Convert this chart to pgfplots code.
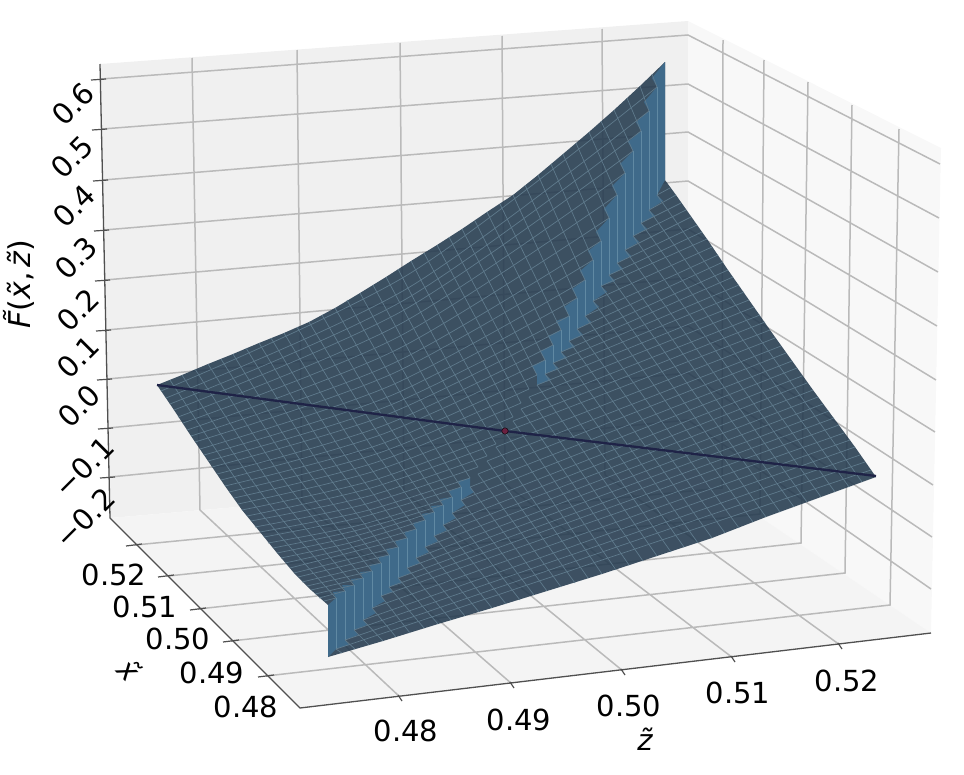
\documentclass[border=0pt]{standalone}
\usepackage{fontspec}
\setmainfont{DejaVu Sans}
\usepackage{pgfplots}
\pgfplotsset{compat=1.18}
\definecolor{paneback}{HTML}{F0F0F0}
\definecolor{paneright}{HTML}{F8F8F8}
\definecolor{panefloor}{HTML}{F4F4F4}
\definecolor{gridc}{HTML}{BABABA}
\definecolor{axc}{HTML}{505050}
\definecolor{surfc}{HTML}{243A4E}
\definecolor{flapc}{HTML}{3F6A8A}
\definecolor{flapl}{HTML}{6089A3}
\definecolor{meshc}{HTML}{5F7A8C}
\definecolor{linec}{HTML}{1F2347}
\definecolor{dotc}{HTML}{6A2040}
\newcommand{\tl}{\fontsize{29}{29}\selectfont}
\newcommand{\tr}{\fontsize{29}{29}\selectfont}
\begin{document}
\begin{tikzpicture}
\path[use as bounding box] (0,0) rectangle (964pt,774pt);
\begin{axis}[
  at={(0,0)}, anchor=south west,
  scale only axis, width=964pt, height=774pt,
  xmin=0, xmax=964, ymin=0, ymax=774, y dir=reverse,
  hide axis, clip=false, unbounded coords=jump]
% panes
\addplot[draw=none, fill=paneback] coordinates {(100,64)(688,21)(688,468)(110,518)} -- cycle;
\addplot[draw=none, fill=paneright] coordinates {(688,21)(941,148)(931,633)(688,468)} -- cycle;
\addplot[draw=none, fill=panefloor] coordinates {(110,518)(688,468)(931,633)(300,708)} -- cycle;
% grid
\addplot[gridc, line width=1.5pt] coordinates {
(101,79)(688,35)(940,164)(nan,nan)
(102,129)(688,84)(939,218)(nan,nan)
(103,180)(688,132)(938,272)(nan,nan)
(104,230)(688,181)(937,326)(nan,nan)
(105,280)(688,229)(936,380)(nan,nan)
(106,330)(688,278)(935,432)(nan,nan)
(107,379)(688,326)(933,485)(nan,nan)
(108,428)(688,373)(932,537)(nan,nan)
(110,477)(688,420)(931,589)(nan,nan)
(192,58)(200,510)(400,697)(nan,nan)
(297,50)(302,501)(512,684)(nan,nan)
(400,43)(404,492)(623,671)(nan,nan)
(502,36)(505,484)(733,658)(nan,nan)
(602,29)(605,475)(840,645)(nan,nan)
(723,40)(722,488)(135,545)(nan,nan)
(764,60)(760,514)(168,576)(nan,nan)
(808,82)(801,543)(198,609)(nan,nan)
(852,105)(845,573)(231,641)(nan,nan)
(899,129)(890,605)(266,676)(nan,nan)
};
% axes
\addplot[axc, line width=1.3pt] coordinates {(100,64)(110,518)(300,708)(931,633)};
\addplot[axc, line width=1.2pt] coordinates {
(91,80)(106,79)(nan,nan)(92,130)(107,129)(nan,nan)(93,181)(108,180)(nan,nan)
(94,231)(109,230)(nan,nan)(95,281)(110,280)(nan,nan)(96,331)(111,330)(nan,nan)
(97,380)(112,379)(nan,nan)(98,429)(113,428)(nan,nan)(100,478)(115,477)(nan,nan)
(126,546)(142,544)(nan,nan)(158,577)(174,575)(nan,nan)(190,610)(206,608)(nan,nan)
(223,642)(239,640)(nan,nan)(258,677)(274,675)(nan,nan)
(398,695)(402,701)(nan,nan)(510,682)(514,688)(nan,nan)(621,669)(625,675)(nan,nan)
(731,656)(735,662)(nan,nan)(838,643)(842,649)(nan,nan)
};
% surface silhouette
\addplot[draw=none, fill=surfc, fill opacity=0.88] coordinates {
(157,385)(182,375)(208,364)(233,354)(259,343)(284,333)(309,322)(335,308)(360,293)(386,277)(411,261)(437,245)(462,229)(487,212)(513,195)(538,175)(563,154)(589,132)(614,110)(640,86)(665,62)
(665,180)(676,195)(707,239)(728,270)(770,330)(813,390)(855,447)(876,477)
(821,497)(766,517)(712,538)(657,556)(602,574)(547,591)(492,608)(438,624)(383,641)(328,657)
(328,605)(311,590)(294,573)(277,553)(260,532)(242,510)(225,486)(208,461)(191,436)(174,410)
} -- cycle;
% upper step
\addplot[draw=none, fill=flapc] coordinates {
(665,62)(652,78)(657,87)(644,102)(649,111)(636,122)(641,131)(628,142)(633,151)(620,164)(625,173)(612,186)(617,195)(604,209)(609,218)(596,232)(601,241)(588,251)(593,260)(580,271)(585,280)(572,289)(577,298)(564,307)(569,316)(556,321)(561,330)(548,336)(553,345)(540,351)(545,360)(532,366)(537,375)
(537,385)(551,380)(545,374)(559,369)(553,363)(567,358)(561,352)(575,347)(569,341)(583,335)(577,329)(591,322)(585,316)(599,307)(593,301)(607,292)(601,286)(615,281)(609,275)(623,269)(617,263)(631,256)(625,250)(639,242)(633,236)(647,229)(641,223)(655,216)(649,210)(663,201)(657,195)(665,180)
} -- cycle;
% lower step
\addplot[draw=none, fill=flapc] coordinates {
(470,478)(458,481)(461,487)(449,491)(452,497)(440,499)(443,505)(431,506)(434,512)(422,514)(425,520)(413,523)(416,529)(404,532)(407,538)(395,541)(398,547)(386,549)(389,555)(378,557)(381,563)(369,565)(372,571)(360,572)(363,578)(351,579)(354,585)(342,585)(345,591)(333,592)(336,598)(328,605)
(328,657)(336,649)(349,645)(345,640)(358,635)(354,630)(367,625)(363,620)(376,613)(372,608)(385,601)(381,596)(393,592)(389,587)(402,583)(398,578)(411,573)(407,568)(420,563)(416,558)(429,552)(425,547)(438,541)(434,536)(447,530)(443,525)(456,518)(452,513)(465,505)(461,500)(474,492)(470,487)
} -- cycle;
% vertical strokes of the step
\addplot[flapl, line width=0.9pt] coordinates {
(657,87)(657,195)(nan,nan)(649,111)(649,210)(nan,nan)(641,131)(641,223)(nan,nan)(633,151)(633,236)(nan,nan)
(625,173)(625,250)(nan,nan)(617,195)(617,263)(nan,nan)(609,218)(609,275)(nan,nan)(601,241)(601,286)(nan,nan)
(593,260)(593,301)(nan,nan)(585,280)(585,316)(nan,nan)(577,298)(577,329)(nan,nan)(569,316)(569,341)(nan,nan)
(561,330)(561,352)(nan,nan)(553,345)(553,363)(nan,nan)(545,360)(545,374)(nan,nan)
(461,487)(461,500)(nan,nan)(452,497)(452,513)(nan,nan)(443,505)(443,525)(nan,nan)(434,512)(434,536)(nan,nan)
(425,520)(425,547)(nan,nan)(416,529)(416,558)(nan,nan)(407,538)(407,568)(nan,nan)(398,547)(398,578)(nan,nan)
(389,555)(389,587)(nan,nan)(381,563)(381,596)(nan,nan)(372,571)(372,608)(nan,nan)(363,578)(363,620)(nan,nan)
(354,585)(354,630)(nan,nan)(345,591)(345,640)(nan,nan)(336,598)(336,649)(nan,nan)
};
% mesh, first part of the surface, lines along one direction
\addplot[meshc, line width=0.7pt, smooth] coordinates {
(161,391)(409,274)(657,87)(nan,nan)
(166,398)(408,288)(649,111)(nan,nan)
(170,404)(406,299)(641,131)(nan,nan)
(174,410)(404,310)(633,151)(nan,nan)
(178,417)(402,323)(625,173)(nan,nan)
(183,423)(400,336)(617,195)(nan,nan)
(187,430)(398,349)(609,218)(nan,nan)
(191,436)(396,362)(601,241)(nan,nan)
(195,442)(394,373)(593,260)(nan,nan)
(200,449)(392,385)(585,280)(nan,nan)
(204,455)(390,396)(577,298)(nan,nan)
(208,461)(388,406)(569,316)(nan,nan)
(212,467)(386,415)(561,330)(nan,nan)
(217,474)(385,425)(553,345)(nan,nan)
(221,480)(383,434)(545,360)(nan,nan)
(225,486)(381,444)(537,375)(nan,nan)
(229,492)(379,453)(529,389)(nan,nan)
(234,498)(377,462)(521,403)(nan,nan)
(238,504)(375,471)(513,417)(nan,nan)
(242,510)(374,480)(505,432)(nan,nan)
(247,516)(371,488)(496,444)(nan,nan)
(251,521)(369,496)(487,456)(nan,nan)
(255,527)(366,504)(478,467)(nan,nan)
(260,532)(365,511)(470,478)(nan,nan)
(264,537)(362,517)(461,487)(nan,nan)
(268,543)(360,525)(452,497)(nan,nan)
(273,548)(358,530)(443,505)(nan,nan)
(277,553)(355,536)(434,512)(nan,nan)
(281,558)(353,542)(425,520)(nan,nan)
(285,563)(350,548)(416,529)(nan,nan)
(290,568)(407,538)(nan,nan)(294,573)(398,547)(nan,nan)(298,577)(389,555)(nan,nan)
(302,582)(381,563)(nan,nan)(307,586)(372,571)(nan,nan)(311,590)(363,578)(nan,nan)
(315,594)(354,585)(nan,nan)(319,598)(345,591)(nan,nan)(324,601)(336,598)(nan,nan)
};
% mesh, first part, other direction
\addplot[meshc, line width=0.7pt, smooth] coordinates {
(170,380)(253,503)(336,598)(nan,nan)
(182,375)(264,497)(345,591)(nan,nan)
(195,369)(275,490)(354,585)(nan,nan)
(208,364)(286,483)(363,578)(nan,nan)
(221,359)(297,476)(372,571)(nan,nan)
(233,354)(307,470)(381,563)(nan,nan)
(246,348)(318,462)(389,555)(nan,nan)
(259,343)(329,455)(398,547)(nan,nan)
(271,338)(339,447)(407,538)(nan,nan)
(284,333)(350,439)(416,529)(nan,nan)
(297,327)(361,431)(425,520)(nan,nan)
(309,322)(372,424)(434,512)(nan,nan)
(322,315)(383,417)(443,505)(nan,nan)
(335,308)(394,409)(452,497)(nan,nan)
(347,300)(404,399)(461,487)(nan,nan)
(360,293)(415,391)(470,478)(nan,nan)
(373,285)(426,381)(478,467)(nan,nan)
(386,277)(437,371)(487,456)(nan,nan)
(398,269)(447,361)(496,444)(nan,nan)
(411,261)(458,350)(505,432)(nan,nan)
(424,253)(513,417)(nan,nan)(437,245)(521,403)(nan,nan)(449,237)(529,389)(nan,nan)
(462,229)(537,375)(nan,nan)(475,221)(545,360)(nan,nan)(487,212)(553,345)(nan,nan)
(500,204)(561,330)(nan,nan)(513,195)(569,316)(nan,nan)(525,185)(577,298)(nan,nan)
(538,175)(585,280)(nan,nan)(551,164)(593,260)(nan,nan)(563,154)(601,241)(nan,nan)
(576,143)(609,218)(nan,nan)(589,132)(617,195)(nan,nan)(601,121)(625,173)(nan,nan)
(614,110)(633,151)(nan,nan)(627,98)(641,131)(nan,nan)(640,86)(649,111)(nan,nan)
(652,74)(657,87)(nan,nan)
};
% mesh, second part
\addplot[meshc, line width=0.7pt] coordinates {
(657,195)(670,188)(nan,nan)(649,210)(676,195)(nan,nan)(641,223)(681,203)(nan,nan)
(633,236)(686,210)(nan,nan)(625,250)(691,217)(nan,nan)(617,263)(697,225)(nan,nan)
(609,275)(702,232)(nan,nan)(601,286)(707,239)(nan,nan)(593,301)(712,247)(nan,nan)
(585,316)(718,255)(nan,nan)(577,329)(723,262)(nan,nan)(569,341)(728,270)(nan,nan)
(561,352)(733,277)(nan,nan)(553,363)(739,285)(nan,nan)(545,374)(744,292)(nan,nan)
(537,385)(749,300)(nan,nan)(529,397)(754,307)(nan,nan)(521,409)(760,315)(nan,nan)
(513,421)(765,322)(nan,nan)(505,432)(770,330)(nan,nan)(496,447)(775,338)(nan,nan)
(487,461)(781,346)(nan,nan)(478,474)(786,353)(nan,nan)(470,487)(792,361)(nan,nan)
(461,500)(797,368)(nan,nan)(452,513)(802,376)(nan,nan)(443,525)(807,383)(nan,nan)
(434,536)(813,390)(nan,nan)(425,547)(818,397)(nan,nan)(416,558)(823,404)(nan,nan)
(407,568)(829,411)(nan,nan)(398,578)(834,418)(nan,nan)(389,587)(839,425)(nan,nan)
(381,596)(844,433)(nan,nan)(372,608)(850,440)(nan,nan)(363,620)(855,447)(nan,nan)
(354,630)(860,455)(nan,nan)(345,640)(865,462)(nan,nan)(336,649)(871,470)(nan,nan)
};
\addplot[meshc, line width=0.7pt] coordinates {
(336,649)(342,653)(nan,nan)(345,640)(355,649)(nan,nan)(354,630)(369,645)(nan,nan)
(363,620)(383,641)(nan,nan)(372,608)(396,637)(nan,nan)(381,596)(410,633)(nan,nan)
(389,587)(424,628)(nan,nan)(398,578)(438,624)(nan,nan)(407,568)(451,620)(nan,nan)
(416,558)(465,616)(nan,nan)(425,547)(479,612)(nan,nan)(434,536)(492,608)(nan,nan)
(443,525)(506,604)(nan,nan)(452,513)(520,600)(nan,nan)(461,500)(534,595)(nan,nan)
(470,487)(547,591)(nan,nan)(478,474)(561,587)(nan,nan)(487,461)(575,583)(nan,nan)
(496,447)(588,578)(nan,nan)(505,432)(602,574)(nan,nan)(513,421)(616,570)(nan,nan)
(521,409)(629,565)(nan,nan)(529,397)(643,561)(nan,nan)(537,385)(657,556)(nan,nan)
(545,374)(671,552)(nan,nan)(553,363)(684,547)(nan,nan)(561,352)(698,543)(nan,nan)
(569,341)(712,538)(nan,nan)(577,329)(725,533)(nan,nan)(585,316)(739,528)(nan,nan)
(593,301)(753,522)(nan,nan)(601,286)(766,517)(nan,nan)(609,275)(780,512)(nan,nan)
(617,263)(794,507)(nan,nan)(625,250)(807,502)(nan,nan)(633,236)(821,497)(nan,nan)
(641,223)(835,492)(nan,nan)(649,210)(849,487)(nan,nan)(657,195)(862,482)(nan,nan)
};
% zero line and point
\addplot[linec, line width=2.3pt] coordinates {(157,385)(505,431)(876,476)};
\addplot[only marks, mark=*, mark size=3.2pt, mark options={draw=none, fill=dotc}] coordinates {(505,431)};
% z ticks labels
\node[rotate=45,font=\tr] at (axis cs:73,104) {0.6};
\node[rotate=45,font=\tr] at (axis cs:72,157) {0.5};
\node[rotate=45,font=\tr] at (axis cs:74,206) {0.4};
\node[rotate=45,font=\tr] at (axis cs:76,258) {0.3};
\node[rotate=45,font=\tr] at (axis cs:78,310) {0.2};
\node[rotate=45,font=\tr] at (axis cs:78,357) {0.1};
\node[rotate=45,font=\tr] at (axis cs:79,406) {0.0};
\node[rotate=45,font=\tr] at (axis cs:84,467) {−0.1};
\node[rotate=45,font=\tr] at (axis cs:85,518) {−0.2};
% left labels
\node[font=\tl] at (axis cs:114,575) {0.52};
\node[font=\tl] at (axis cs:145,607) {0.51};
\node[font=\tl] at (axis cs:178,639) {0.50};
\node[font=\tl] at (axis cs:212,673) {0.49};
\node[font=\tl] at (axis cs:246,707) {0.48};
% bottom labels
\node[font=\tl] at (axis cs:406,731) {0.48};
\node[font=\tl] at (axis cs:519,720) {0.49};
\node[font=\tl] at (axis cs:629,706) {0.50};
\node[font=\tl] at (axis cs:738,693) {0.51};
\node[font=\tl] at (axis cs:847,681) {0.52};
% axis labels
\node[rotate=90,font=\fontsize{30}{30}\selectfont] at (axis cs:19,284) {\itshape\~{F}\upshape(\itshape\~{x}\upshape,\,\itshape\~{z}\upshape)};
\node[font=\tl] at (axis cs:645,739) {\itshape\~{z}};
\node[rotate=-45,font=\tl] at (axis cs:130,670) {\itshape\~{x}};
\end{axis}
\end{tikzpicture}
\end{document}
